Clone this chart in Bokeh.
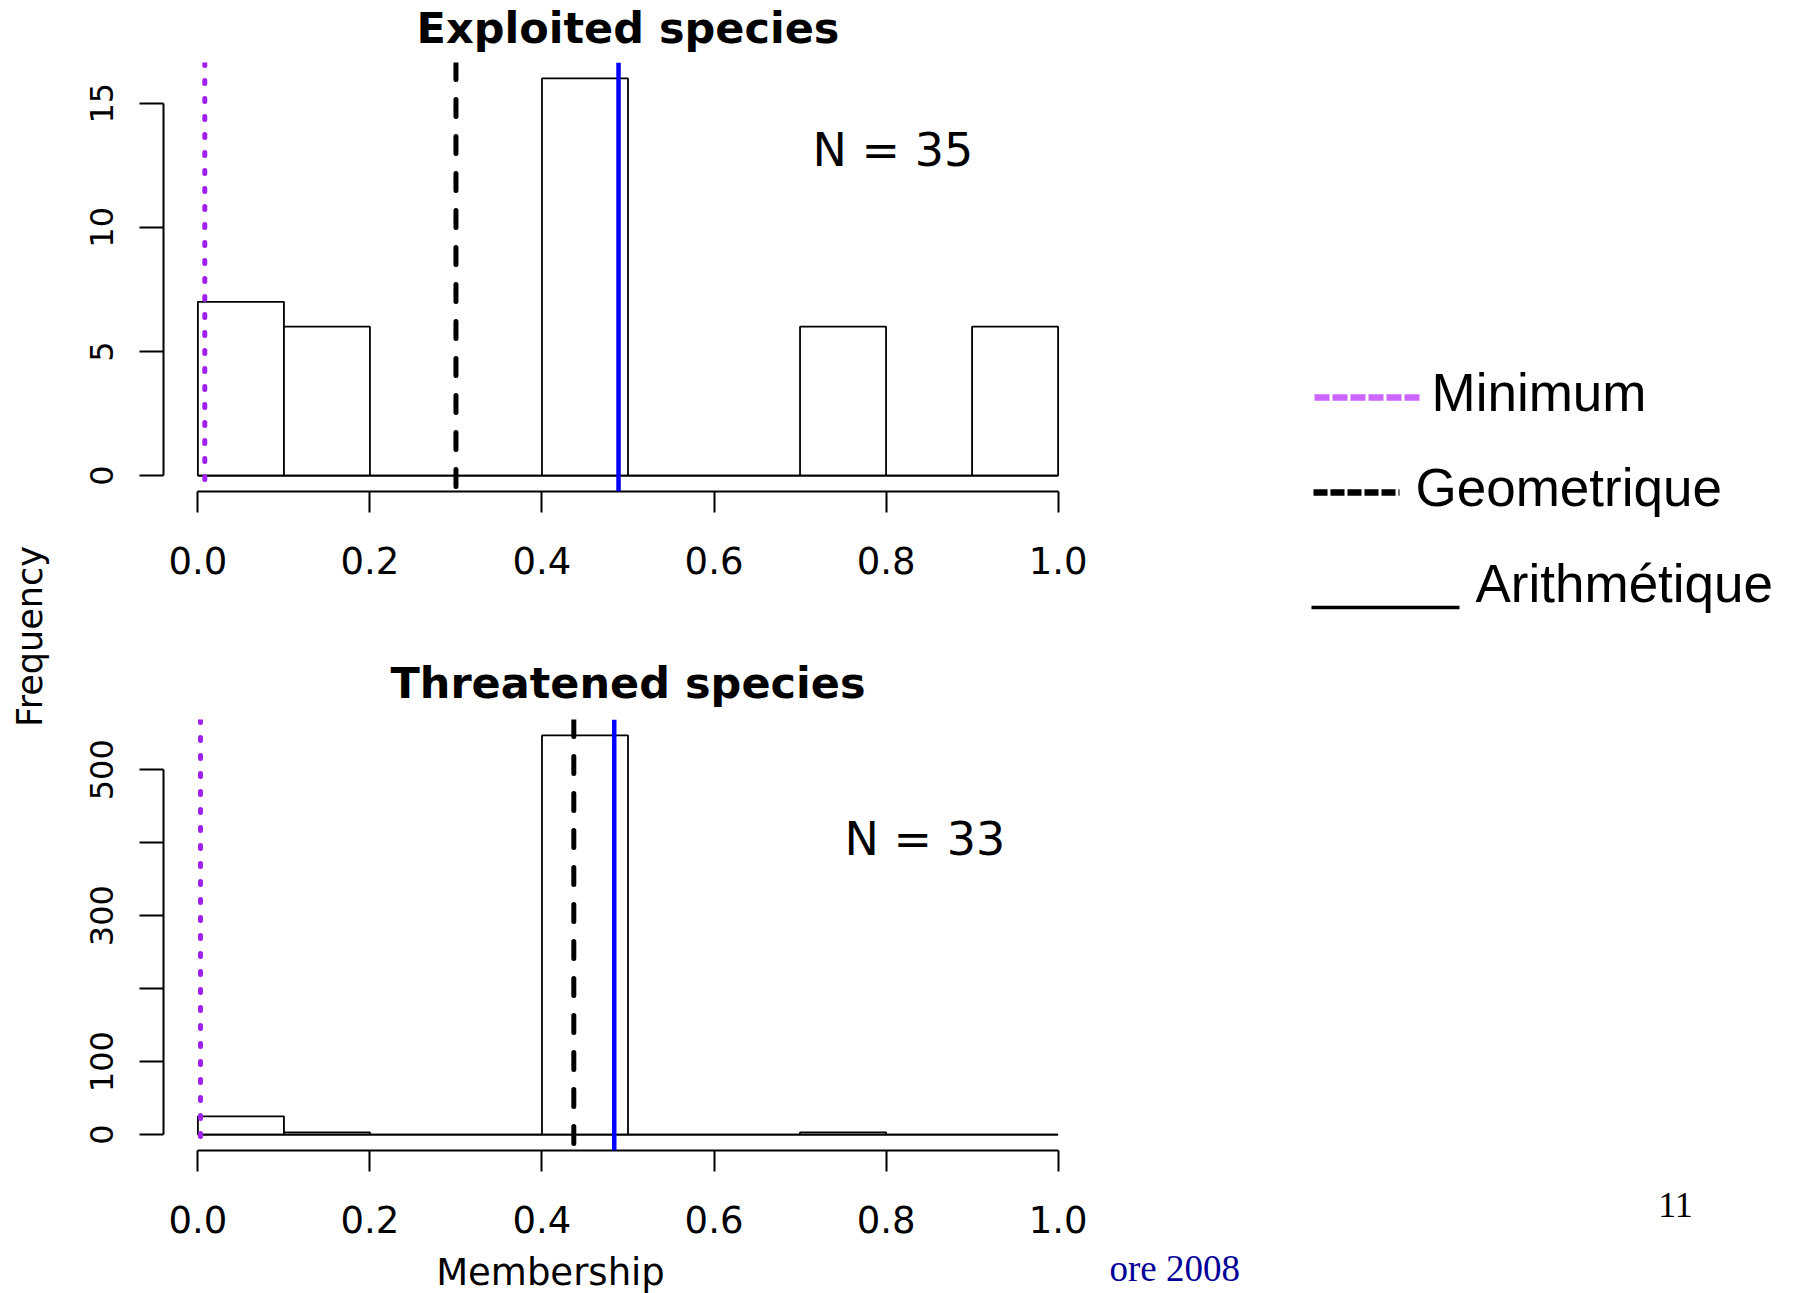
import math
from bokeh.plotting import figure
from bokeh.models import Range1d, FixedTicker, NumeralTickFormatter, Span
from bokeh.layouts import row, column
from bokeh.embed import file_html
from bokeh.resources import INLINE
from bokeh.core.properties import value

# ---------------- data ----------------
bin_edges = [0.0, 0.1, 0.2, 0.3, 0.4, 0.5, 0.6, 0.7, 0.8, 0.9, 1.0]
exploited_counts = [7, 6, 0, 0, 16, 0, 0, 6, 0, 6]
threatened_counts = [25, 3, 0, 0, 547, 0, 0, 3, 0, 0]

stat_names = ["Minimum", "Geometrique", "Arithmétique"]
exploited_stats = [0.008, 0.300, 0.489]
threatened_stats = [0.003, 0.437, 0.484]

x_ticks = [0.0, 0.2, 0.4, 0.6, 0.8, 1.0]
exploited_y_ticks = [0, 5, 10, 15]
exploited_y_labelled = [0, 5, 10, 15]
threatened_y_ticks = [0, 100, 200, 300, 400, 500]
threatened_y_labelled = [0, 100, 300, 500]

panel_titles = ["Exploited species", "Threatened species"]
panel_n = ["N = 35", "N = 33"]
x_title = "Membership"
y_title = "Frequency"
page_number = "11"
footer_text = "ore 2008"

# ---------------- styles / layout ----------------
stat_styles = {
    "Minimum": dict(line_color="#A020F0", line_dash="3 15", line_width=5, line_cap="round"),
    "Geometrique": dict(line_color="black", line_dash="17 20", line_width=5, line_cap="round"),
    "Arithmétique": dict(line_color="#0000FF", line_dash="solid", line_width=4.5, line_cap="butt"),
}
FONT = "DejaVu Sans"
TOTAL_W, TOTAL_H = 1798, 1293
STRIP_W = 58
FRAME_W = 929
LEFT_B = 105
RIGHT_B = 11
HIST_W = LEFT_B + FRAME_W + RIGHT_B
RIGHT_W = TOTAL_W - STRIP_W - HIST_W


def text_fig(w, h, left=0, right=0):
    f = figure(frame_width=w, frame_height=h, x_range=Range1d(0, w), y_range=Range1d(0, h),
               x_axis_type=None, y_axis_type=None, toolbar_location=None,
               output_backend="svg", title=None, min_border=0,
               min_border_left=left, min_border_right=right)
    f.outline_line_color = None
    f.grid.visible = False
    return f


def make_panel(counts, stats, yticks, ylabelled, ntext, frame_h, top_b, bottom_b, n_px):
    lo, hi = bin_edges[0], bin_edges[-1]
    xr = Range1d(lo - 0.04 * (hi - lo), hi + 0.04 * (hi - lo))
    ymax = max(counts)
    yr = Range1d(-0.04 * ymax, 1.04 * ymax)
    p = figure(frame_width=FRAME_W, frame_height=frame_h, x_range=xr, y_range=yr,
               toolbar_location=None, output_backend="svg", title=None,
               min_border_left=LEFT_B, min_border_right=RIGHT_B,
               min_border_top=top_b, min_border_bottom=bottom_b)
    p.outline_line_color = None
    p.grid.visible = False

    n = len(counts)
    p.quad(left=bin_edges[:-1], right=bin_edges[1:], bottom=[0] * n, top=counts,
           fill_color="white", line_color="black", line_width=1.8)
    p.segment(x0=bin_edges[:-1], y0=[0] * n, x1=bin_edges[1:], y1=[0] * n,
              line_color="black", line_width=1.8)

    for name, v in zip(stat_names, stats):
        p.add_layout(Span(location=v, dimension="height", **stat_styles[name]))

    xa = p.xaxis[0]
    xa.ticker = FixedTicker(ticks=x_ticks)
    xa.bounds = (x_ticks[0], x_ticks[-1])
    xa.formatter = NumeralTickFormatter(format="0.0")
    xa.major_tick_out = 21
    xa.major_tick_in = 0
    xa.minor_tick_line_color = None
    xa.axis_line_width = 2
    xa.major_tick_line_width = 2
    xa.major_label_text_font = FONT
    xa.major_label_text_font_size = "37px"
    xa.major_label_text_color = "black"
    xa.major_label_standoff = 34

    ya = p.yaxis[0]
    ya.ticker = FixedTicker(ticks=yticks)
    ya.bounds = (yticks[0], yticks[-1])
    ya.major_label_overrides = {t: "" for t in yticks if t not in ylabelled}
    ya.major_label_orientation = "parallel"
    ya.major_tick_out = 24
    ya.major_tick_in = 0
    ya.minor_tick_line_color = None
    ya.axis_line_width = 2
    ya.major_tick_line_width = 2
    ya.major_label_text_font = FONT
    ya.major_label_text_font_size = "32px"
    ya.major_label_text_color = "black"
    ya.major_label_standoff = 26

    ux = (xr.end - xr.start) / FRAME_W
    uy = (yr.end - yr.start) / frame_h
    p.text(x=[xr.start + n_px[0] * ux], y=[yr.end - n_px[1] * uy], text=[ntext],
           text_align="left", text_baseline="middle", text_font=value(FONT),
           text_font_size="46px", text_color="black")
    return p


# panel titles (own strips, frames aligned with the histogram frames)
t1 = text_fig(FRAME_W, 52, LEFT_B, RIGHT_B)
t1.text(x=[FRAME_W / 2], y=[25], text=[panel_titles[0]], text_align="center", text_baseline="middle",
        text_font=value(FONT), text_font_style="bold", text_font_size="43px", text_color="black")
top = make_panel(exploited_counts, exploited_stats, exploited_y_ticks, exploited_y_labelled,
                 panel_n[0], 429, 10, 117, (649, 87))
t2 = text_fig(FRAME_W, 104, LEFT_B, RIGHT_B)
t2.text(x=[FRAME_W / 2], y=[30], text=[panel_titles[1]], text_align="center", text_baseline="middle",
        text_font=value(FONT), text_font_style="bold", text_font_size="43px", text_color="black")
bot = make_panel(threatened_counts, threatened_stats, threatened_y_ticks, threatened_y_labelled,
                 panel_n[1], 431, 7, 100, (681, 119))
xl = text_fig(FRAME_W, 43, LEFT_B, RIGHT_B)
xl.text(x=[387], y=[21], text=[x_title], text_align="center", text_baseline="middle",
        text_font=value(FONT), text_font_size="37px", text_color="black")

# left strip with the shared y title
strip = text_fig(STRIP_W, TOTAL_H)
strip.text(x=[29], y=[TOTAL_H - 636], text=[y_title], angle=math.pi / 2,
           text_align="center", text_baseline="middle", text_font=value(FONT),
           text_font_size="35px", text_color="black")

# right side: legend, page number, footer
right = text_fig(RIGHT_W, TOTAL_H)
legend_samples = [
    dict(x0=211, x1=316, y=896, line_color="#CC66FF", line_width=6.7, line_dash="15 3"),
    dict(x0=210, x1=296, y=801, line_color="black", line_width=6.5, line_dash="14 3"),
    dict(x0=208, x1=356, y=686, line_color="black", line_width=3.3, line_dash="solid"),
]
legend_text_pos = [(328, 901), (312, 806), (372, 710)]
for s, name, (tx, ty) in zip(legend_samples, stat_names, legend_text_pos):
    right.segment(x0=[s["x0"]], y0=[s["y"]], x1=[s["x1"]], y1=[s["y"]],
                  line_color=s["line_color"], line_width=s["line_width"],
                  line_dash=s["line_dash"], line_cap="butt")
    right.text(x=[tx], y=[ty], text=[name], text_align="left", text_baseline="middle",
               text_font=value("Liberation Sans"), text_font_size="53px", text_color="black")

right.text(x=[572], y=[89], text=[page_number], text_align="center", text_baseline="middle",
           text_font=value("Liberation Serif"), text_font_size="36px", text_color="black")
right.text(x=[6], y=[25], text=[footer_text], text_align="left", text_baseline="middle",
           text_font=value("Liberation Serif"), text_font_size="37px", text_color="#000099")

layout = row(strip, column(t1, top, t2, bot, xl), right)
open("out.html", "w").write(file_html(layout, INLINE))
